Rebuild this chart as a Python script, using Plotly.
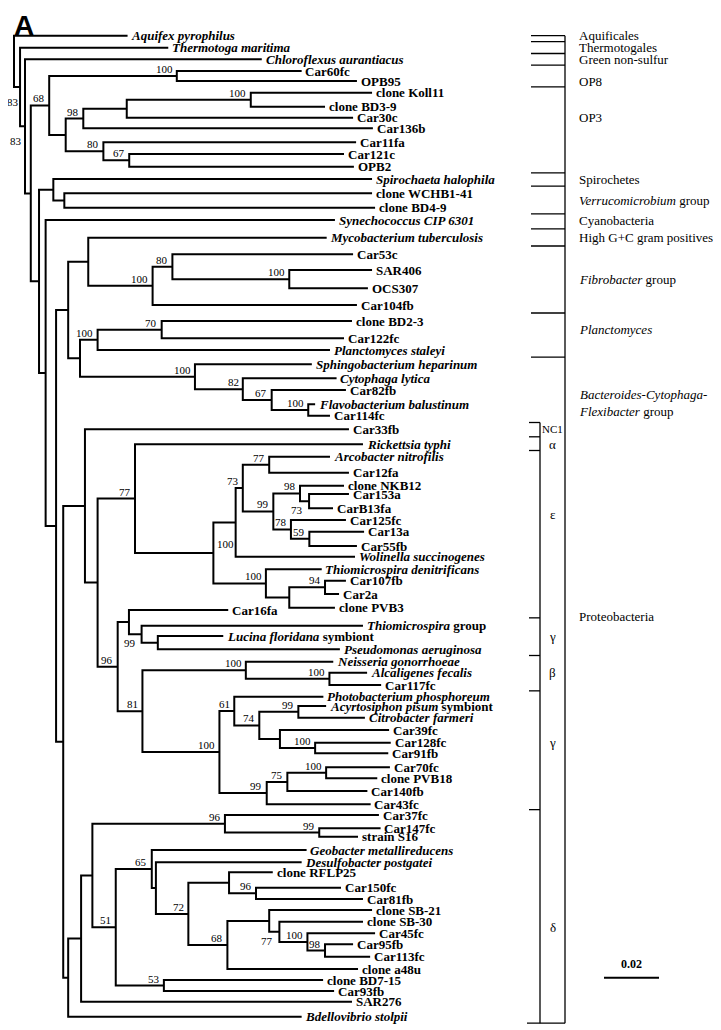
import plotly.graph_objects as go

# ---------------- data ----------------
leaf_names = [
    "Aquifex pyrophilus", "Thermotoga maritima", "Chloroflexus aurantiacus", "Car60fc", "OPB95",
    "clone Koll11", "clone BD3-9", "Car30c", "Car136b", "Car11fa", "Car121c", "OPB2",
    "Spirochaeta halophila", "clone WCHB1-41", "clone BD4-9", "Synechococcus CIP 6301",
    "Mycobacterium tuberculosis", "Car53c", "SAR406", "OCS307", "Car104fb", "clone BD2-3",
    "Car122fc", "Planctomyces staleyi", "Sphingobacterium heparinum", "Cytophaga lytica",
    "Car82fb", "Flavobacterium balustinum", "Car114fc", "Car33fb", "Rickettsia typhi",
    "Arcobacter nitrofilis", "Car12fa", "clone NKB12", "Car153a", "CarB13fa", "Car125fc",
    "Car13a", "Car55fb", "Wolinella succinogenes", "Thiomicrospira denitrificans", "Car107fb",
    "Car2a", "clone PVB3", "Car16fa", "Thiomicrospira group", "Lucina floridana symbiont",
    "Pseudomonas aeruginosa", "Neisseria gonorrhoeae", "Alcaligenes fecalis", "Car117fc",
    "Photobacterium phosphoreum", "Acyrtosiphon pisum symbiont", "Citrobacter farmeri",
    "Car39fc", "Car128fc", "Car91fb", "Car70fc", "clone PVB18", "Car140fb", "Car43fc",
    "Car37fc", "Car147fc", "strain S16", "Geobacter metallireducens", "Desulfobacter postgatei",
    "clone RFLP25", "Car150fc", "Car81fb", "clone SB-21", "clone SB-30", "Car45fc", "Car95fb",
    "Car113fc", "clone a48u", "clone BD7-15", "Car93fb", "SAR276", "Bdellovibrio stolpii",
]
# distance from root (units of 0.001 substitutions per site)
leaf_depth = [
    41.3, 56.1, 90.1, 104.6, 124.7, 130.2, 113.1, 123.3, 130.5, 124.4, 120.0, 123.6,
    130.2, 130.2, 131.3, 116.7, 113.7, 123.3, 130.2, 128.7, 124.7, 122.9, 120.0, 114.9,
    108.3, 117.3, 120.7, 109.5, 114.9, 121.8, 126.9, 114.9, 121.8, 120.0, 121.8, 116.0,
    120.7, 127.3, 124.7, 124.0, 111.9, 120.7, 118.2, 116.7, 77.9, 126.9, 76.1, 118.5,
    116.1, 128.4, 133.5, 112.5, 113.5, 127.6, 136.4, 137.0, 136.1, 136.7, 132.1, 128.5,
    129.7, 132.7, 133.3, 125.1, 106.4, 104.6, 94.1, 118.9, 126.9, 130.2, 126.9, 131.3,
    123.3, 129.5, 125.1, 112.4, 116.4, 122.9, 104.6,
]
# vertical row of each leaf
leaf_row = [
    35.7, 47.7, 59.3, 71.0, 81.0, 92.7, 106.7, 117.7, 128.3, 142.3, 154.0, 166.7,
    179.0, 193.3, 207.7, 220.0, 237.7, 254.3, 270.0, 288.3, 305.0, 321.0, 338.3, 350.0,
    364.3, 378.3, 390.0, 404.3, 415.7, 429.3, 444.3, 456.7, 472.7, 485.7, 494.0, 508.3,
    520.0, 531.7, 546.0, 556.7, 569.3, 580.7, 594.0, 607.7, 610.0, 625.7, 636.0, 649.3,
    661.7, 672.7, 685.0, 696.7, 706.0, 717.7, 730.0, 742.7, 753.3, 767.3, 778.3, 791.0,
    804.3, 815.0, 828.3, 836.7, 850.0, 862.3, 872.3, 887.7, 899.0, 910.0, 921.7, 933.3,
    944.3, 956.7, 969.0, 980.0, 991.0, 1001.7, 1016.7,
]
italic_part = {
    "Aquifex pyrophilus": "Aquifex pyrophilus", "Thermotoga maritima": "Thermotoga maritima",
    "Chloroflexus aurantiacus": "Chloroflexus aurantiacus",
    "Spirochaeta halophila": "Spirochaeta halophila",
    "Synechococcus CIP 6301": "Synechococcus CIP 6301",
    "Mycobacterium tuberculosis": "Mycobacterium tuberculosis",
    "Planctomyces staleyi": "Planctomyces staleyi",
    "Sphingobacterium heparinum": "Sphingobacterium heparinum",
    "Cytophaga lytica": "Cytophaga lytica",
    "Flavobacterium balustinum": "Flavobacterium balustinum",
    "Rickettsia typhi": "Rickettsia typhi", "Arcobacter nitrofilis": "Arcobacter nitrofilis",
    "Wolinella succinogenes": "Wolinella succinogenes",
    "Thiomicrospira denitrificans": "Thiomicrospira denitrificans",
    "Thiomicrospira group": "Thiomicrospira",
    "Lucina floridana symbiont": "Lucina floridana",
    "Pseudomonas aeruginosa": "Pseudomonas aeruginosa",
    "Neisseria gonorrhoeae": "Neisseria gonorrhoeae",
    "Alcaligenes fecalis": "Alcaligenes fecalis",
    "Photobacterium phosphoreum": "Photobacterium phosphoreum",
    "Acyrtosiphon pisum symbiont": "Acyrtosiphon pisum",
    "Citrobacter farmeri": "Citrobacter farmeri",
    "Geobacter metallireducens": "Geobacter metallireducens",
    "Desulfobacter postgatei": "Desulfobacter postgatei",
    "Bdellovibrio stolpii": "Bdellovibrio stolpii",
}

node_ids = [
    "root", "N2", "N3", "N4", "OP", "OP8", "OP3", "n98", "nKoll", "n100K", "n80", "n67",
    "N5", "SV", "Verr", "N6", "N7", "NB", "MF", "Fib", "F80", "F100", "NPB", "Planc", "P70",
    "Bact", "B82", "B67", "B100", "Pro", "P1", "P2", "AE", "E", "E1", "E1a", "E77", "E99",
    "E98", "E73", "E78", "E59", "E2", "E2b", "E94", "G96", "G99a", "G99", "Gluc", "G81",
    "Beta", "B100b", "G2", "G61", "G74", "G99b", "G80", "G100", "G99c", "G75", "G100b",
    "D0", "D1", "D2", "D96", "D99", "D51", "D65", "D156", "D72", "D96b", "D96c", "D68",
    "D269", "D77", "D100", "D98", "D53",
]
node_depth = [
    0.0, 2.2, 4.0, 6.1, 12.8, 59.2, 18.8, 25.2, 41.0, 86.1, 32.5, 41.9,
    9.1, 14.3, 18.3, 11.5, 15.3, 19.7, 27.0, 50.4, 57.6, 100.1, 24.0, 30.4, 53.7,
    65.8, 83.2, 93.7, 107.0, 17.9, 25.8, 30.4, 44.0, 72.5, 80.6, 83.2, 92.8, 94.3,
    104.0, 107.3, 100.7, 107.4, 91.6, 100.1, 113.1, 37.7, 41.8, 46.4, 52.3, 46.7,
    84.3, 114.7, 74.7, 80.1, 89.2, 103.4, 96.7, 109.5, 91.9, 99.4, 113.5,
    19.7, 24.4, 28.5, 76.7, 111.0, 37.0, 50.1, 51.6, 63.4, 78.2, 88.0, 77.6,
    92.8, 96.5, 106.7, 113.1, 54.5,
]
node_children = [
    ["Aquifex pyrophilus", "N2"], ["Thermotoga maritima", "N3"],
    ["Chloroflexus aurantiacus", "N4"], ["OP", "N5"], ["OP8", "OP3"], ["Car60fc", "OPB95"],
    ["n98", "n80"], ["nKoll", "Car136b"], ["n100K", "Car30c"], ["clone Koll11", "clone BD3-9"],
    ["Car11fa", "n67"], ["Car121c", "OPB2"],
    ["SV", "N6"], ["Spirochaeta halophila", "Verr"], ["clone WCHB1-41", "clone BD4-9"],
    ["Synechococcus CIP 6301", "N7"], ["NB", "Pro"], ["MF", "NPB"],
    ["Mycobacterium tuberculosis", "Fib"], ["F80", "Car104fb"], ["Car53c", "F100"],
    ["SAR406", "OCS307"], ["Planc", "Bact"], ["P70", "Planctomyces staleyi"],
    ["clone BD2-3", "Car122fc"], ["Sphingobacterium heparinum", "B82"],
    ["Cytophaga lytica", "B67"], ["Car82fb", "B100"], ["Flavobacterium balustinum", "Car114fc"],
    ["P1", "D0"], ["Car33fb", "P2"], ["AE", "G96"], ["Rickettsia typhi", "E"], ["E1", "E2"],
    ["E1a", "Wolinella succinogenes"], ["E77", "E99"], ["Arcobacter nitrofilis", "Car12fa"],
    ["E98", "E78"], ["clone NKB12", "E73"], ["Car153a", "CarB13fa"], ["Car125fc", "E59"],
    ["Car13a", "Car55fb"], ["Thiomicrospira denitrificans", "E2b"], ["E94", "clone PVB3"],
    ["Car107fb", "Car2a"], ["G99a", "G81"], ["Car16fa", "G99"], ["Thiomicrospira group", "Gluc"],
    ["Lucina floridana symbiont", "Pseudomonas aeruginosa"], ["Beta", "G2"],
    ["Neisseria gonorrhoeae", "B100b"], ["Alcaligenes fecalis", "Car117fc"], ["G61", "G99c"],
    ["Photobacterium phosphoreum", "G74"], ["G99b", "G80"],
    ["Acyrtosiphon pisum symbiont", "Citrobacter farmeri"], ["Car39fc", "G100"],
    ["Car128fc", "Car91fb"], ["G75", "Car43fc"], ["G100b", "Car140fb"], ["Car70fc", "clone PVB18"],
    ["D1", "Bdellovibrio stolpii"], ["D2", "SAR276"], ["D96", "D51"], ["Car37fc", "D99"],
    ["Car147fc", "strain S16"], ["D65", "D53"], ["Geobacter metallireducens", "D156"],
    ["Desulfobacter postgatei", "D72"], ["D96b", "D68"], ["clone RFLP25", "D96c"],
    ["Car150fc", "Car81fb"], ["D269", "clone a48u"], ["clone SB-21", "D77"],
    ["clone SB-30", "D100"], ["Car45fc", "D98"], ["Car95fb", "Car113fc"],
    ["clone BD7-15", "Car93fb"],
]
node_support = [
    None, 83, 83, None, 68, 100, None, 98, None, 100, 80, 67,
    None, None, None, None, None, None, None, 100, 80, 100, None, 100, 70,
    100, 82, 67, 100, None, None, None, 77, 100, None, 73, 77, 99,
    98, 73, 78, 59, 100, None, 94, 96, None, 99, None, 81,
    100, 100, 100, 61, 74, 99, None, 100, 99, 75, 100,
    None, None, None, 96, 99, 51, 65, None, 72, None, 96, 68,
    None, 77, 100, 98, 53,
]
support_side = {"N2": "left", "N3": "left", "E": "right", "E73": "below", "G99": "below", "D77": "below"}

group_names = [
    "Aquificales", "Thermotogales", "Green non-sulfur", "OP8", "OP3", "Spirochetes",
    "<i>Verrucomicrobium</i> group", "Cyanobacteria", "High G+C gram positives",
    "<i>Fibrobacter</i> group", "<i>Planctomyces</i>",
    "<i>Bacteroides-Cytophaga-</i><br><i>Flexibacter</i> group", "Proteobacteria",
]
group_first_leaf = [
    "Aquifex pyrophilus", "Thermotoga maritima", "Chloroflexus aurantiacus", "Car60fc",
    "clone Koll11", "Spirochaeta halophila", "clone WCHB1-41", "Synechococcus CIP 6301",
    "Mycobacterium tuberculosis", "Car53c", "clone BD2-3", "Sphingobacterium heparinum", "Car33fb",
]
group_label_leaves = [
    ["Aquifex pyrophilus"], ["Thermotoga maritima"], ["Chloroflexus aurantiacus"], ["OPB95"],
    ["Car30c"], ["Spirochaeta halophila"], ["clone WCHB1-41", "clone BD4-9"],
    ["Synechococcus CIP 6301"], ["Mycobacterium tuberculosis"], ["SAR406", "OCS307"],
    ["clone BD2-3", "Car122fc"], ["Car82fb", "Car114fc"], ["clone PVB3", "Thiomicrospira group"],
]
sub_names = ["NC1", "α", "ε", "γ", "β", "γ", "δ"]
sub_first_leaf = ["Car33fb", "Rickettsia typhi", "Arcobacter nitrofilis", "Thiomicrospira group",
                  "Neisseria gonorrhoeae", "Photobacterium phosphoreum", "Car37fc"]
sub_label_leaves = [["Car33fb"], ["Rickettsia typhi"], ["CarB13fa", "Car125fc"],
                    ["Lucina floridana symbiont"], ["Alcaligenes fecalis"], ["Car128fc"],
                    ["clone SB-30", "Car45fc"]]
scale_value = 0.02

# ---------------- layout helpers ----------------
PX_PER_UNIT = 2.75
ROOT_PX = 14.0
W, H, PAD = 721, 1030, 8


def ux(px):
    return (px - ROOT_PX) / PX_PER_UNIT


leaf_idx = {n: i for i, n in enumerate(leaf_names)}
node_idx = {n: i for i, n in enumerate(node_ids)}
ycache = {}


def ypos(name):
    if name in leaf_idx:
        return leaf_row[leaf_idx[name]]
    if name not in ycache:
        ch = node_children[node_idx[name]]
        ycache[name] = (ypos(ch[0]) + ypos(ch[-1])) / 2.0
    return ycache[name]


def depth(name):
    if name in leaf_idx:
        return leaf_depth[leaf_idx[name]]
    return node_depth[node_idx[name]]


parent_of = {}
for nid, ch in zip(node_ids, node_children):
    for c in ch:
        parent_of[c] = nid

xs, ys = [], []
for nid, ch in zip(node_ids, node_children):
    d = depth(nid)
    c1, c2 = ch[0], ch[-1]
    xs += [depth(c1), d, d, depth(c2), None]
    ys += [ypos(c1), ypos(c1), ypos(c2), ypos(c2), None]

fig = go.Figure()
fig.add_trace(go.Scatter(x=xs, y=ys, mode="lines", line=dict(color="black", width=2),
                         hoverinfo="skip", showlegend=False))

SERIF = "Liberation Serif"
ann = []
for n in leaf_names:
    it = italic_part.get(n)
    if it:
        txt = "<i>" + it + "</i>" + n[len(it):]
    else:
        txt = n
    ann.append(dict(x=depth(n) + 1.0, y=ypos(n), text="<b>" + txt + "</b>", xanchor="left",
                    yanchor="middle", showarrow=False, borderpad=0,
                    font=dict(family=SERIF, size=13, color="black")))

for nid, sup in zip(node_ids, node_support):
    if sup is None:
        continue
    side = support_side.get(nid, "above")
    d, y = depth(nid), ypos(nid)
    if side == "above":
        x, yy, xa = d - 1.2, y - 7, "right"
    elif side == "below":
        x, yy, xa = d - 1.8, y + 9, "right"
    elif side == "right":
        x, yy, xa = d + 0.8, y - 9, "left"
    else:
        x, yy, xa = max(depth(parent_of[nid]) + 1.2, ux(PAD + 12)), y + 15, "right"
    ann.append(dict(x=x, y=yy, text=str(sup), xanchor=xa, yanchor="middle", showarrow=False,
                    borderpad=0, font=dict(family=SERIF, size=11, color="black")))

# right-hand group brackets
OUT_L, OUT_R, IN_L, IN_X = ux(531), ux(565), ux(529), ux(540)
shapes = []


def boundary(name):
    i = leaf_idx[name]
    if i == 0:
        return leaf_row[0]
    return (leaf_row[i - 1] + leaf_row[i]) / 2.0


bottom = leaf_row[-1] + 6.5
top = boundary(group_first_leaf[0])
lw = dict(color="black", width=1.3)
shapes.append(dict(type="line", x0=OUT_R, x1=OUT_R, y0=top, y1=bottom, xref="x", yref="y", line=lw))
shapes.append(dict(type="line", x0=ux(527), x1=OUT_R, y0=bottom, y1=bottom, xref="x", yref="y", line=lw))
for g in group_first_leaf:
    if g in sub_first_leaf:
        continue
    b = boundary(g)
    shapes.append(dict(type="line", x0=OUT_L, x1=OUT_R, y0=b, y1=b, xref="x", yref="y", line=lw))
sub_top = boundary(sub_first_leaf[0])
shapes.append(dict(type="line", x0=IN_X, x1=IN_X, y0=sub_top, y1=bottom, xref="x", yref="y", line=lw))
for g in sub_first_leaf:
    b = boundary(g)
    shapes.append(dict(type="line", x0=IN_L, x1=IN_X, y0=b, y1=b, xref="x", yref="y", line=lw))

for name, leaves in zip(group_names, group_label_leaves):
    y = sum(ypos(l) for l in leaves) / len(leaves)
    ann.append(dict(x=ux(578), y=y, text=name, xanchor="left", yanchor="middle", align="left",
                    showarrow=False, borderpad=0, font=dict(family=SERIF, size=13, color="black")))
for name, leaves in zip(sub_names, sub_label_leaves):
    y = sum(ypos(l) for l in leaves) / len(leaves)
    ann.append(dict(x=ux(552.5), y=y, text=name, xanchor="center", yanchor="middle",
                    showarrow=False, borderpad=0,
                    font=dict(family=SERIF, size=11 if name == "NC1" else 13, color="black")))

# scale bar
bar_len = scale_value * 1000
bx0 = ux(604)
shapes.append(dict(type="line", x0=bx0, x1=bx0 + bar_len, y0=977.7, y1=977.7, xref="x", yref="y",
                   line=dict(color="black", width=2)))
ann.append(dict(x=bx0 + bar_len / 2, y=964, text="<b>%.2f</b>" % scale_value, xanchor="center",
                yanchor="middle", showarrow=False, font=dict(family=SERIF, size=12, color="black")))

# panel letter
ann.append(dict(x=ux(24), y=PAD + 0.5, text="<b>A</b>", xanchor="center", yanchor="top",
                showarrow=False, borderpad=0,
                font=dict(family="Liberation Sans", size=28, color="black")))

fig.update_layout(
    width=W - PAD, height=H - PAD, margin=dict(l=0, r=0, t=0, b=0),
    paper_bgcolor="white", plot_bgcolor="white", showlegend=False,
    xaxis=dict(range=[ux(PAD), ux(W)], visible=False, fixedrange=True),
    yaxis=dict(range=[H, PAD], visible=False, fixedrange=True),
    annotations=ann, shapes=shapes,
)
fig.write_html("out.html")
